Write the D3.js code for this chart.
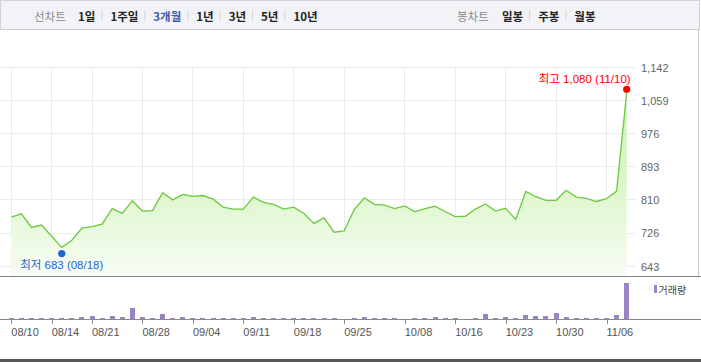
<!DOCTYPE html>
<html>
<head>
<meta charset="utf-8">
<script src="https://cdn.jsdelivr.net/npm/d3@7/dist/d3.min.js"></script>
<style>
    body { margin: 0; background: #fff; }
    svg { display: block; font-family: "Liberation Sans", "Noto Sans CJK KR", sans-serif; }
    .grid { stroke: #ebebeb; stroke-width: 1; shape-rendering: crispEdges; }
    .tickLabel { fill: #666; font-size: 11px; }
    .dateLabel { fill: #555; font-size: 11px; }
    .tab { font-family: "Noto Sans CJK KR", sans-serif; font-size: 11.5px; font-weight: bold; fill: #222; }
</style>
</head>
<body>
<div id="chartContainer"></div>
<script>
const ctx = {
    W: 701,
    H: 362,
};

// trading days, 2020-08-10 .. 2020-11-10
const dates = ["08/10","08/11","08/12","08/13","08/14","08/18","08/19","08/20","08/21","08/24",
    "08/25","08/26","08/27","08/28","08/31","09/01","09/02","09/03","09/04","09/07",
    "09/08","09/09","09/10","09/11","09/14","09/15","09/16","09/17","09/18","09/21",
    "09/22","09/23","09/24","09/25","09/28","09/29","10/05","10/06","10/07","10/08",
    "10/12","10/13","10/14","10/15","10/16","10/19","10/20","10/21","10/22","10/23",
    "10/26","10/27","10/28","10/29","10/30","11/02","11/03","11/04","11/05","11/06",
    "11/09","11/10"];

const closePrices = [767, 775, 741, 747, 719, 691, 709, 739, 743, 749,
    788, 776, 808, 782, 783, 828, 810, 824, 819, 821,
    812, 792, 787, 787, 817, 804, 799, 787, 792, 776,
    751, 765, 729, 732, 786, 815, 799, 797, 788, 795,
    780, 788, 794, 781, 768, 769, 787, 800, 782, 789,
    761, 831, 818, 809, 809, 834, 817, 814, 806, 813,
    832, 1080];

// thousand shares
const volumes = [100, 100, 100, 100, 100, 100, 100, 200, 300, 100,
    300, 200, 1100, 200, 100, 500, 100, 200, 100, 100,
    100, 100, 100, 100, 200, 100, 100, 100, 100, 100,
    100, 100, 100, 0, 100, 200, 100, 100, 100, 0,
    100, 100, 200, 100, 100, 0, 100, 500, 100, 200,
    100, 400, 300, 300, 600, 200, 100, 100, 100, 100,
    400, 3600];

const priceTicks = [643, 726, 810, 893, 976, 1059, 1142];
const dateTicks = ["08/10","08/14","08/21","08/28","09/04","09/11","09/18","09/25","10/08","10/16","10/23","10/30","11/06"];

const periodTabs = ["1일", "1주일", "3개월", "1년", "3년", "5년", "10년"];
const candleTabs = ["일봉", "주봉", "월봉"];

const highMark = { label: "최고", value: 1080, date: "11/10" };
const lowMark = { label: "최저", value: 683, date: "08/18" };

function drawTabs(svg, title, tabs, x0, xTabs, selected) {
    const g = svg.append("g");
    g.append("text")
     .attr("x", x0).attr("y", 15.5)
     .attr("dominant-baseline", "central")
     .attr("class", "tab")
     .style("font-weight", "normal")
     .style("fill", "#8a8a8a")
     .text(title);

    let x = xTabs;
    tabs.forEach((t, i) => {
        const txt = g.append("text")
                     .attr("x", x).attr("y", 15.5)
                     .attr("dominant-baseline", "central")
                     .attr("class", "tab")
                     .style("fill", t === selected ? "#3b59b0" : "#222")
                     .text(t);
        const w = txt.node().getComputedTextLength();
        if (i < tabs.length - 1) {
            g.append("line")
             .attr("x1", x + w + 6.5).attr("x2", x + w + 6.5)
             .attr("y1", 10).attr("y2", 21)
             .style("stroke", "#d5d5d5");
        }
        x += w + 15;
    });
}

function createViz() {
    const svg = d3.select("#chartContainer").append("svg")
                  .attr("width", ctx.W)
                  .attr("height", ctx.H);

    // top menu box
    svg.append("rect")
       .attr("x", 0.5).attr("y", 0.5)
       .attr("width", 699).attr("height", 29)
       .style("fill", "#f2f3f7")
       .style("stroke", "#cfd2d7");

    drawTabs(svg, "선차트", periodTabs, 34, 78, "3개월");
    drawTabs(svg, "봉차트", candleTabs, 457, 502, null);

    const x = d3.scalePoint().domain(dates).range([11.3, 626.7]);
    const y = d3.scaleLinear().domain([643, 1142]).range([266.5, 67.5]);
    const yVol = d3.scaleLinear().domain([0, d3.max(volumes)]).range([319, 283]);

    // gradient for area
    const grad = svg.append("defs").append("linearGradient")
                    .attr("id", "areaGrad")
                    .attr("gradientUnits", "userSpaceOnUse")
                    .attr("x1", 0).attr("x2", 0)
                    .attr("y1", 90).attr("y2", 276);
    grad.append("stop").attr("offset", 0).attr("stop-color", "#c8f2aa");
    grad.append("stop").attr("offset", 0.6).attr("stop-color", "#e1f7d1");
    grad.append("stop").attr("offset", 1).attr("stop-color", "#f8fdf5");

    // horizontal grid
    svg.append("g")
       .selectAll("line")
       .data(priceTicks)
       .enter()
       .append("line")
       .attr("class", "grid")
       .attr("x1", 0).attr("x2", 636)
       .attr("y1", d => y(d)).attr("y2", d => y(d));

    // vertical grid
    svg.append("g")
       .selectAll("line")
       .data(dateTicks)
       .enter()
       .append("line")
       .attr("class", "grid")
       .attr("x1", d => x(d)).attr("x2", d => x(d))
       .attr("y1", y(1142)).attr("y2", 276);

    const series = dates.map((d, i) => ({ date: d, close: closePrices[i], vol: volumes[i] }));

    const area = d3.area()
                   .x(d => x(d.date))
                   .y0(276)
                   .y1(d => y(d.close));

    const line = d3.line()
                   .x(d => x(d.date))
                   .y(d => y(d.close));

    svg.append("path")
       .datum(series)
       .attr("d", area)
       .style("fill", "url(#areaGrad)");

    svg.append("path")
       .datum(series)
       .attr("d", line)
       .style("fill", "none")
       .style("stroke", "#6cc93d")
       .style("stroke-width", 1.3);

    // price labels
    svg.append("g")
       .selectAll("text")
       .data(priceTicks)
       .enter()
       .append("text")
       .attr("class", "tickLabel")
       .attr("x", 641)
       .attr("y", d => y(d))
       .attr("dominant-baseline", "central")
       .text(d => d3.format(",")(d));

    // high / low markers
    svg.append("circle")
       .attr("cx", x(highMark.date)).attr("cy", y(highMark.value) - 3)
       .attr("r", 3.6)
       .style("fill", "#ff0000");
    svg.append("text")
       .attr("x", x(highMark.date) + 4)
       .attr("y", y(highMark.value) - 9.5)
       .attr("text-anchor", "end")
       .style("font-size", "11.5px")
       .style("fill", "#ff0000")
       .text(`${highMark.label} ${d3.format(",")(highMark.value)} (${highMark.date})`);

    svg.append("circle")
       .attr("cx", x(lowMark.date)).attr("cy", y(lowMark.value) + 3)
       .attr("r", 3.6)
       .style("fill", "#1f64d2");
    svg.append("text")
       .attr("x", x(lowMark.date))
       .attr("y", y(lowMark.value) + 18)
       .attr("text-anchor", "middle")
       .style("font-size", "11.5px")
       .style("fill", "#1f64d2")
       .text(`${lowMark.label} ${d3.format(",")(lowMark.value)} (${lowMark.date})`);

    // right border of price panel
    svg.append("line")
       .attr("x1", 698.5).attr("x2", 698.5)
       .attr("y1", 30).attr("y2", 276)
       .style("stroke", "#c8c8c8");

    // price panel bottom border
    svg.append("line")
       .attr("x1", 0).attr("x2", ctx.W)
       .attr("y1", 276.5).attr("y2", 276.5)
       .style("stroke", "#7b8188");

    // volume bars
    svg.append("g")
       .selectAll("rect")
       .data(series.filter(d => d.vol > 0))
       .enter()
       .append("rect")
       .attr("x", d => Math.round(x(d.date) - 2.5))
       .attr("width", 5)
       .attr("y", d => Math.min(yVol(d.vol), 318))
       .attr("height", d => Math.max(319 - yVol(d.vol), 1))
       .style("fill", "#9985c6")
       .style("shape-rendering", "crispEdges");

    // volume axis
    svg.append("line")
       .attr("x1", 0).attr("x2", ctx.W)
       .attr("y1", 319.5).attr("y2", 319.5)
       .style("stroke", "#8a8a8a");

    svg.append("g")
       .selectAll("line")
       .data(dateTicks)
       .enter()
       .append("line")
       .attr("x1", d => Math.round(x(d)) + 0.5).attr("x2", d => Math.round(x(d)) + 0.5)
       .attr("y1", 320).attr("y2", 324)
       .style("stroke", "#8a8a8a");

    svg.append("g")
       .selectAll("text")
       .data(dateTicks)
       .enter()
       .append("text")
       .attr("class", "dateLabel")
       .attr("x", d => x(d))
       .attr("y", 335.5)
       .attr("text-anchor", "start")
       .text(d => d);

    // legend
    svg.append("rect")
       .attr("x", 654).attr("y", 285)
       .attr("width", 3).attr("height", 8)
       .style("fill", "#9985c6");
    svg.append("text")
       .attr("x", 658.5).attr("y", 289.5)
       .attr("dominant-baseline", "central")
       .style("font-family", "'Noto Sans CJK KR', sans-serif")
       .style("font-size", "10px")
       .style("fill", "#444")
       .text("거래량");

    // bottom rule
    svg.append("rect")
       .attr("x", 0).attr("y", 359)
       .attr("width", ctx.W).attr("height", 3)
       .style("fill", "#585858");
}

createViz();
</script>
</body>
</html>
